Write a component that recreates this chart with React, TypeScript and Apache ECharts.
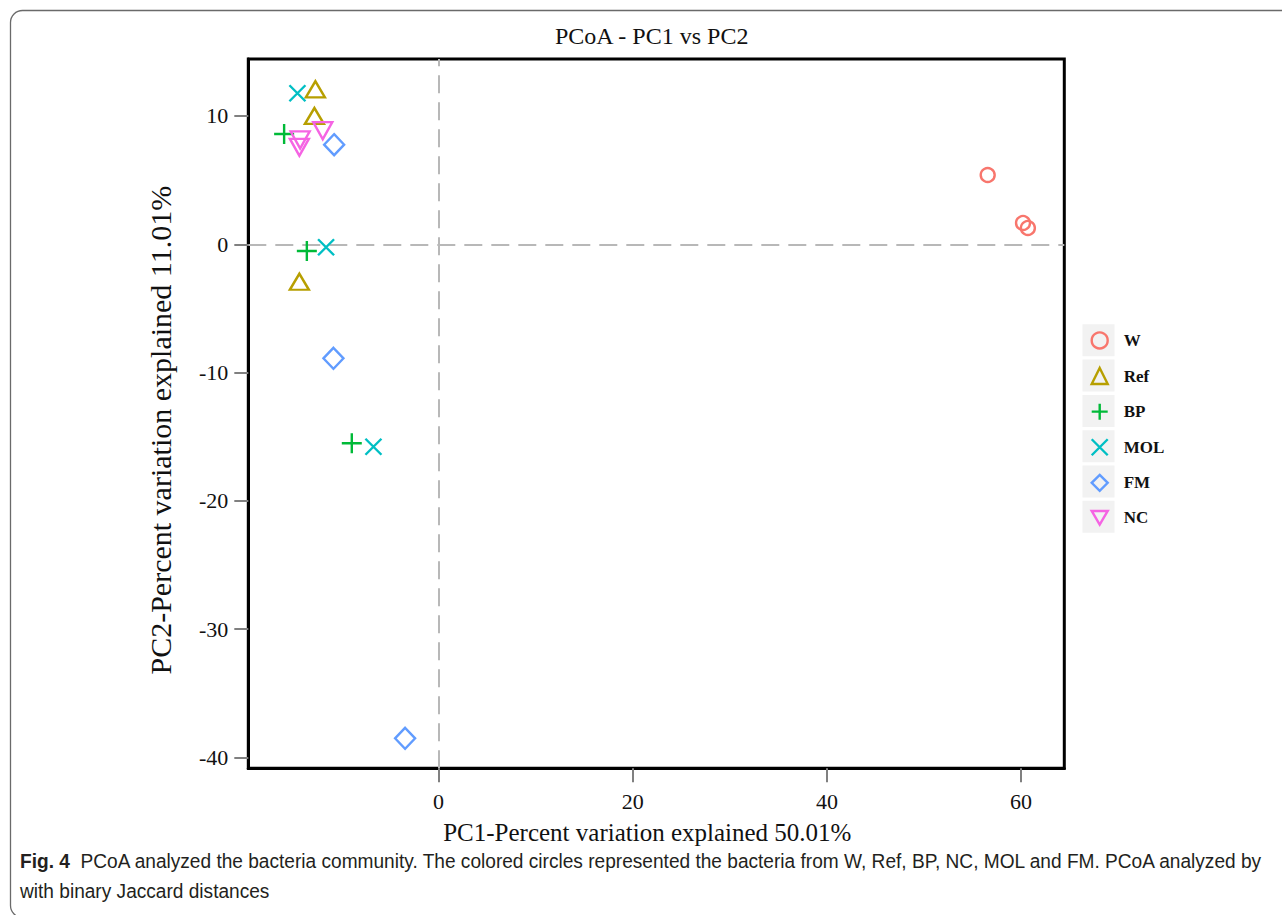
import React, { useEffect, useRef } from "react";
import * as echarts from "echarts";

// ---- data ----
const groups = ["W", "Ref", "BP", "MOL", "FM", "NC"];
const colors = ["#F8766D", "#B79F00", "#00BA38", "#00BFC4", "#619CFF", "#F564E3"];

const wX = [56.56, 60.2, 60.7];
const wY = [5.4, 1.66, 1.27];
const refX = [-12.69, -12.79, -14.34];
const refY = [12.08, 10.0, -2.92];
const bpX = [-15.91, -13.57, -8.94];
const bpY = [8.6, -0.52, -15.51];
const molX = [-14.54, -11.59, -6.71];
const molY = [11.77, -0.23, -15.78];
const fmX = [-10.76, -10.83, -3.45];
const fmY = [7.76, -8.89, -38.5];
const ncX = [-14.26, -14.34, -11.93];
const ncY = [8.13, 7.56, 8.85];

const xTicks = [0, 20, 40, 60];
const yTicks = [-40, -30, -20, -10, 0, 10];

const groupX = [wX, refX, bpX, molX, fmX, ncX];
const groupY = [wY, refY, bpY, molY, fmY, ncY];

const symbols = [
  "circle",
  "triangle",
  "path://M10,0 L10,20 M0,10 L20,10",
  "path://M0,0 L20,20 M20,0 L0,20",
  "diamond",
  "path://M0,0 L20,0 L10,17 Z",
];
const symbolSizes: any[] = [14, [19, 16], 20, 16, [20, 21], [19, 17]];

const SERIF = '"Liberation Serif", "Times New Roman", serif';

// layout
const GRID_L = 248.3;
const GRID_T = 59;
const GRID_W = 816;
const GRID_H = 709.3;
const LEG_LEFT = 1090.5;
const LEG_ICON = 16;
const LEG_ITEM_H = 18.1; // rendered legend item height (text-driven)
const LEG_FIRST_CY = 340.3;
const LEG_STEP = 35.3;
const KEY_BOX = 32;

export default function App() {
  const ref = useRef<HTMLDivElement>(null);
  useEffect(() => {
    const chart = echarts.init(ref.current!, null, { renderer: "svg" });

    const series: any[] = groups.map((g, i) => ({
      name: g,
      type: "scatter",
      symbol: symbols[i],
      symbolSize: symbolSizes[i],
      data: groupX[i].map((x, j) => [x, groupY[i][j]]),
      itemStyle: {
        color: "rgba(0,0,0,0)",
        borderColor: colors[i],
        borderWidth: 2.4,
        opacity: 1,
      },
      emphasis: { disabled: true },
      z: 3,
    }));
    series[0].markLine = {
      silent: true,
      symbol: "none",
      animation: false,
      label: { show: false },
      lineStyle: { color: "#B8B8B8", width: 2, type: [18, 9] },
      data: [{ xAxis: 0 }, { yAxis: 0 }],
      z: 1,
    };

    const keyRects = groups.map((_, i) => ({
      type: "rect",
      z: -1,
      shape: {
        x: LEG_LEFT + LEG_ICON / 2 - KEY_BOX / 2,
        y: LEG_FIRST_CY - KEY_BOX / 2 + i * LEG_STEP,
        width: KEY_BOX,
        height: KEY_BOX,
      },
      style: { fill: "#F2F2F2" },
      silent: true,
    }));

    chart.setOption({
      animation: false,
      backgroundColor: "#ffffff",
      textStyle: { fontFamily: SERIF },
      title: {
        text: "PCoA - PC1 vs PC2",
        left: 550,
        top: 19,
        textStyle: { fontFamily: SERIF, fontSize: 24, fontWeight: "normal", color: "#111" },
      },
      grid: {
        left: GRID_L,
        top: GRID_T,
        width: GRID_W,
        height: GRID_H,
        show: true,
        borderColor: "#000",
        borderWidth: 3,
        containLabel: false,
      },
      xAxis: {
        type: "value",
        min: -19.6,
        max: 64.45,
        splitLine: { show: false },
        axisLine: { show: true, onZero: false, lineStyle: { color: "#000", width: 3 } },
        axisTick: { show: true, customValues: xTicks, length: 14, lineStyle: { color: "#808080", width: 2 } },
        axisLabel: { customValues: xTicks, margin: 22, fontSize: 22, color: "#111", fontFamily: SERIF },
        name: "PC1-Percent variation explained 50.01%",
        nameLocation: "middle",
        nameGap: 52,
        nameTextStyle: { fontSize: 25, color: "#111", fontFamily: SERIF, padding: [0, 18, 0, 0] },
      },
      yAxis: {
        type: "value",
        min: -40.84,
        max: 14.44,
        splitLine: { show: false },
        axisLine: { show: true, onZero: false, lineStyle: { color: "#000", width: 3 } },
        axisTick: { show: true, customValues: yTicks, length: 14, lineStyle: { color: "#808080", width: 2 } },
        axisLabel: { customValues: yTicks, margin: 20, fontSize: 22, color: "#111", fontFamily: SERIF },
        name: "PC2-Percent variation explained 11.01%",
        nameLocation: "middle",
        nameGap: 73,
        nameTextStyle: { fontSize: 30, color: "#111", fontFamily: SERIF, padding: [0, 33, 0, 0] },
      },
      legend: {
        orient: "vertical",
        left: LEG_LEFT,
        top: LEG_FIRST_CY - LEG_ITEM_H / 2,
        padding: 0,
        itemWidth: LEG_ICON,
        itemHeight: LEG_ICON,
        itemGap: LEG_STEP - LEG_ITEM_H,
        data: groups,
        selectedMode: false,
        itemStyle: { borderWidth: 2.4 },
        textStyle: {
          fontFamily: SERIF,
          fontSize: 17,
          fontWeight: "bold",
          color: "#111",
          lineHeight: 16,
          padding: [0, 0, 0, 11],
        },
      },
      graphic: [
        {
          type: "rect",
          silent: true,
          shape: { x: 10.5, y: 10.5, width: 1300, height: 907, r: 12 },
          style: { fill: "none", stroke: "#6a6a6a", lineWidth: 1.3 },
        },
        ...keyRects,
        {
          type: "text",
          x: 20,
          y: 846,
          scaleX: 0.91,
          silent: true,
          style: {
            x: 0,
            y: 0,
            verticalAlign: "top",
            align: "left",
            text:
              "{b|Fig. 4}  PCoA analyzed the bacteria community. The colored circles represented the bacteria from W, Ref, BP, NC, MOL and FM. PCoA analyzed by\nwith binary Jaccard distances",
            font: '21px "Liberation Sans", sans-serif',
            fill: "#231F20",
            lineHeight: 30,
            rich: {
              b: {
                font: 'bold 21px "Liberation Sans", sans-serif',
                fill: "#231F20",
                lineHeight: 30,
              },
            },
          },
        },
      ],
      series,
    });
    return () => chart.dispose();
  }, []);
  return (
    <div
      ref={ref}
      style={{ position: "fixed", left: 0, top: 0, width: 1282, height: 915 }}
    />
  );
}
